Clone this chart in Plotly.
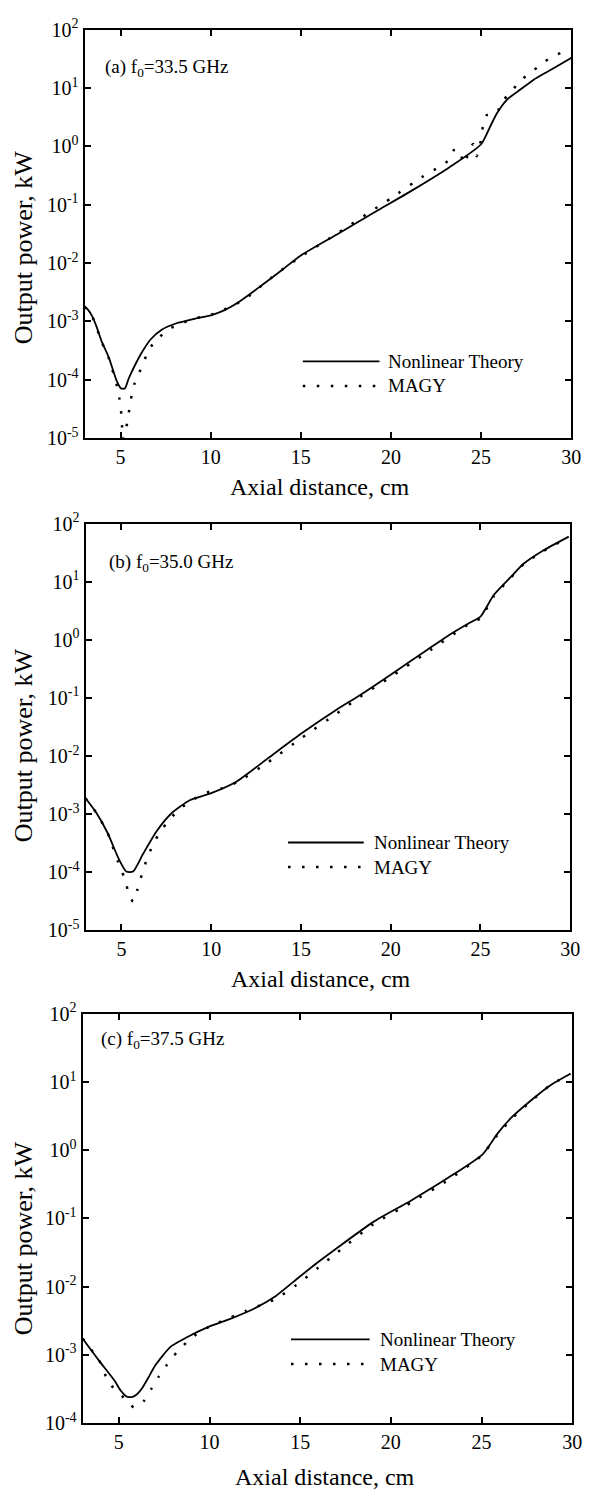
import plotly.graph_objects as go

W, H = 593, 1501
FONT = "Liberation Serif"

# ---------------- data (x in cm, P in kW) ----------------
# (a) f0 = 33.5 GHz
a_nl_x = [3.0, 3.2, 3.42, 3.7, 3.93, 4.35, 4.77, 5.03, 5.24, 5.45, 5.83, 6.25, 6.66, 7.28, 8.1, 9.14, 10.09,
          10.8, 11.6, 12.85, 13.9, 15.0, 17.0, 19.3, 21.2, 23.25, 25.0, 25.52, 25.88, 26.43, 27.07, 27.9,
          28.8, 29.9, 30.0]
a_nl_y = [1.8e-3, 1.58e-3, 1.23e-3, 7.6e-4, 4.7e-4, 2.4e-4, 9.8e-5, 7.1e-5, 7.1e-5, 1.05e-4, 1.86e-4,
          3.2e-4, 4.9e-4, 7.2e-4, 9.3e-4, 1.12e-3, 1.3e-3, 1.58e-3, 2.2e-3, 4.2e-3, 7.4e-3, 1.35e-2, 3.1e-2,
          8.1e-2, 0.178, 0.44, 1.09, 2.24, 3.7, 6.3, 8.9, 13.8, 20.0, 31.6, 33.0]
a_mg_x = [3.0, 3.42, 3.93, 4.35, 4.81, 4.93, 5.01, 5.07, 5.12, 5.26, 5.42, 5.5, 5.62, 5.77, 6.05, 6.6, 7.05,
          7.67, 8.34, 8.96, 9.54, 10.17, 11.36, 11.97, 12.55, 13.2, 13.8, 15.0, 17.0, 20.0, 21.8, 22.75, 23.24,
          23.55, 23.88, 24.12, 24.28, 24.56, 24.76, 24.88, 25.01, 25.1, 25.3, 25.88, 26.16, 26.7, 27.13, 27.7,
          28.3, 28.95, 29.6, 30.0]
a_mg_y = [1.8e-3, 1.23e-3, 4.6e-4, 2.3e-4, 7.6e-5, 4.8e-5, 3.2e-5, 1.95e-5, 9.5e-6, 1.3e-5, 2.2e-5, 3.5e-5,
          5.5e-5, 8.5e-5, 1.35e-4, 3.4e-4, 5.0e-4, 7.4e-4, 9.1e-4, 1.1e-3, 1.2e-3, 1.35e-3, 1.95e-3, 2.5e-3,
          3.5e-3, 5.1e-3, 7.1e-3, 1.29e-2, 3.2e-2, 0.129, 0.31, 0.46, 0.59, 0.92, 0.68, 0.50, 0.79, 1.10, 0.68,
          0.87, 1.38, 2.2, 3.4, 3.8, 5.9, 8.7, 13.2, 17.8, 25.1, 34.7, 41.7, 44.0]

# (b) f0 = 35.0 GHz
b_nl_x = [3.0, 3.6, 4.23, 4.86, 5.27, 5.65, 6.2, 6.95, 7.78, 8.83, 10.0, 11.4, 13.2, 15.0, 17.0, 18.3, 20.0,
          22.0, 23.24, 24.45, 25.0, 25.74, 26.68, 27.4, 28.45, 29.92]
b_nl_y = [1.86e-3, 1.05e-3, 4.7e-4, 1.66e-4, 1.02e-4, 1.02e-4, 2.04e-4, 5.0e-4, 1.02e-3, 1.74e-3, 2.29e-3,
          3.6e-3, 9.3e-3, 2.4e-2, 6.3e-2, 0.112, 0.251, 0.66, 1.20, 2.0, 2.5, 5.9, 12.0, 20.4, 33.9, 60.0]
b_mg_x = [3.0, 3.6, 4.23, 4.96, 5.24, 5.38, 5.65, 5.9, 6.07, 6.28, 6.53, 6.8, 7.2, 7.68, 8.3, 8.93, 9.55,
          10.5, 11.5, 13.2, 15.0, 17.0, 18.3, 20.0, 22.0, 24.45, 25.0, 25.74, 26.68, 27.4, 28.45, 29.92]
b_mg_y = [1.86e-3, 1.05e-3, 4.7e-4, 1.12e-4, 7.1e-5, 4.3e-5, 3.1e-5, 5.1e-5, 7.8e-5, 1.26e-4, 2.04e-4,
          3.2e-4, 5.1e-4, 8.1e-4, 1.26e-3, 1.7e-3, 2.24e-3, 2.7e-3, 3.6e-3, 7.9e-3, 2.0e-2, 5.4e-2, 0.105,
          0.229, 0.60, 1.95, 2.34, 5.6, 11.7, 20.0, 33.1, 58.9]

# (c) f0 = 37.5 GHz
c_nl_x = [3.0, 3.93, 4.76, 5.1, 5.38, 5.55, 5.8, 6.0, 6.3, 6.6, 7.04, 7.86, 8.7, 9.94, 11.18, 12.42, 13.66,
          14.9, 15.94, 16.98, 19.04, 21.1, 23.2, 25.06, 25.9, 26.7, 27.74, 28.78, 29.9]
c_nl_y = [1.74e-3, 8.1e-4, 4.2e-4, 3.0e-4, 2.5e-4, 2.4e-4, 2.45e-4, 2.65e-4, 3.3e-4, 4.5e-4, 7.2e-4,
          1.32e-3, 1.78e-3, 2.57e-3, 3.4e-3, 4.7e-3, 7.3e-3, 1.35e-2, 2.24e-2, 3.6e-2, 8.9e-2, 0.182, 0.40,
          0.87, 1.78, 3.1, 5.4, 8.9, 13.2]
c_mg_x = [3.0, 3.93, 4.45, 5.28, 5.83, 6.4, 6.8, 7.2, 7.66, 8.17, 8.8, 9.42, 10.0, 11.18, 12.0, 13.66, 15.07,
          16.0, 17.0, 19.0, 21.1, 23.2, 25.0, 25.9, 26.7, 27.74, 28.78, 29.9]
c_mg_y = [1.74e-3, 8.1e-4, 3.9e-4, 2.35e-4, 1.7e-4, 2.14e-4, 3.2e-4, 4.8e-4, 7.2e-4, 1.07e-3, 1.58e-3,
          2.14e-3, 2.6e-3, 3.55e-3, 4.4e-3, 6.6e-3, 1.2e-2, 1.9e-2, 3.1e-2, 8.1e-2, 0.17, 0.37, 0.83, 1.7,
          2.95, 5.25, 8.9, 13.2]

panel_labels = ["(a) f<sub>0</sub>=33.5 GHz", "(b) f<sub>0</sub>=35.0 GHz", "(c) f<sub>0</sub>=37.5 GHz"]
series_names = ["Nonlinear Theory", "MAGY"]
x_ticks = [5, 10, 15, 20, 25, 30]
x_title = "Axial distance, cm"
y_title = "Output power, kW"
exps_ab = [-5, -4, -3, -2, -1, 0, 1, 2]
exps_c = [-4, -3, -2, -1, 0, 1, 2]

# ---------------- layout geometry (pixels) ----------------
panels = [
    dict(nlx=a_nl_x, nly=a_nl_y, mgx=a_mg_x, mgy=a_mg_y, exps=exps_ab,
         box=(86, 581, 17, 432), lab=(105, 56), leg=(308, 386, 393, 354, 379),
         xt=(325, 482), yt=(23.5, 238)),
    dict(nlx=b_nl_x, nly=b_nl_y, mgx=b_mg_x, mgy=b_mg_y, exps=exps_ab,
         box=(87, 580, 519, 932), lab=(109, 559), leg=(293, 370, 378, 843, 868),
         xt=(326, 982), yt=(23.5, 744)),
    dict(nlx=c_nl_x, nly=c_nl_y, mgx=c_mg_x, mgy=c_mg_y, exps=exps_c,
         box=(84, 582, 1017, 1433), lab=(101, 1044), leg=(296, 376, 384, 1348, 1373),
         xt=(331, 1488), yt=(23.5, 1245)),
]

DOT = "2.5px,11.5px"
fig = go.Figure()
annotations = []
shapes = []


def px(x):
    return x / W


def py(y):
    return 1 - y / H


for i, p in enumerate(panels):
    n = "" if i == 0 else str(i + 1)
    xa, ya = "x" + n, "y" + n
    fig.add_trace(go.Scatter(x=p["nlx"], y=p["nly"], mode="lines", name=series_names[0],
                             line=dict(color="black", width=1.8, shape="spline", smoothing=0.6),
                             xaxis=xa, yaxis=ya, showlegend=False))
    fig.add_trace(go.Scatter(x=p["mgx"], y=p["mgy"], mode="lines", name=series_names[1],
                             line=dict(color="black", width=2.5, dash=DOT, shape="spline", smoothing=0.5),
                             xaxis=xa, yaxis=ya, showlegend=False))
    x0, x1, y0, y1 = p["box"]
    exps = p["exps"]
    axis_common = dict(showline=True, linewidth=2, linecolor="black", mirror="ticks",
                       ticks="inside", ticklen=6, tickwidth=1.6, tickcolor="black",
                       showgrid=False, zeroline=False,
                       tickfont=dict(family=FONT, size=20, color="black"))
    fig.update_layout(**{
        "xaxis" + n: dict(domain=[px(x0), px(x1)], range=[3, 30], anchor=ya,
                          tickmode="array", tickvals=x_ticks, ticktext=[str(t) for t in x_ticks],
                          **axis_common),
        "yaxis" + n: dict(domain=[py(y1), py(y0)], type="log", range=[exps[0], exps[-1]], anchor=xa,
                          tickmode="array", tickvals=[10.0 ** e for e in exps],
                          ticktext=["10<sup>%d</sup>" % e for e in exps], **axis_common),
    })
    # panel label
    annotations.append(dict(x=px(p["lab"][0]), y=py(p["lab"][1]), xref="paper", yref="paper",
                            text=panel_labels[i], showarrow=False, xanchor="left", yanchor="middle",
                            font=dict(family=FONT, size=19, color="black")))
    # axis titles
    annotations.append(dict(x=px(p["xt"][0]), y=py(p["xt"][1]), xref="paper", yref="paper",
                            text=x_title, showarrow=False, xanchor="center", yanchor="middle",
                            font=dict(family=FONT, size=24, color="black")))
    annotations.append(dict(x=px(p["yt"][0]), y=py(p["yt"][1]), xref="paper", yref="paper",
                            text=y_title, showarrow=False, textangle=-90, xanchor="center",
                            yanchor="middle", font=dict(family=FONT, size=26, color="black")))
    # legend
    lx0, lx1, ltx, ly1, ly2 = p["leg"]
    shapes.append(dict(type="line", xref="paper", yref="paper", x0=px(lx0), x1=px(lx1),
                       y0=py(ly1), y1=py(ly1), line=dict(color="black", width=1.8)))
    shapes.append(dict(type="line", xref="paper", yref="paper", x0=px(lx0), x1=px(lx1),
                       y0=py(ly2), y1=py(ly2), line=dict(color="black", width=2.5, dash=DOT)))
    for txt, yy in zip(series_names, (ly1, ly2)):
        annotations.append(dict(x=px(ltx), y=py(yy), xref="paper", yref="paper", text=txt,
                                showarrow=False, xanchor="left", yanchor="middle",
                                font=dict(family=FONT, size=19, color="black")))

fig.update_layout(width=W, height=H, margin=dict(l=0, r=0, t=0, b=0),
                  paper_bgcolor="white", plot_bgcolor="white",
                  annotations=annotations, shapes=shapes, showlegend=False,
                  font=dict(family=FONT, color="black"))

fig.write_html("out.html")
